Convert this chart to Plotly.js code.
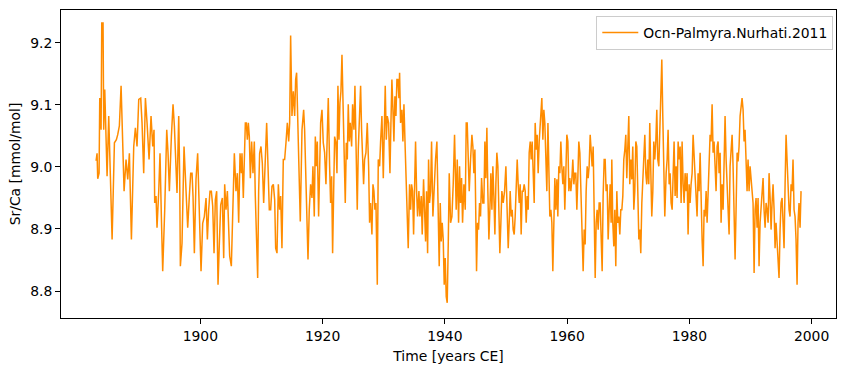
<!DOCTYPE html>
<html>
<head>
<meta charset="utf-8">
<script src="https://cdn.plot.ly/plotly-3.0.1.min.js"></script>
<style>
html,body{margin:0;padding:0;background:#fff;}
#chart{width:846px;height:371px;}
</style>
</head>
<body>
<div id="chart"></div>
<script>
const seriesName = "Ocn-Palmyra.Nurhati.2011";
const xTickVals = [1900, 1920, 1940, 1960, 1980, 2000];
const yTickVals = [8.8, 8.9, 9.0, 9.1, 9.2];

const years = [
1882.94,1883.10,1883.21,1883.43,1883.54,1883.76,1883.87,1884.08,1884.19,1884.36,
1884.74,1885.01,1885.28,1885.56,1885.94,1886.26,1886.48,1886.75,1887.03,1887.30,1887.52,1887.84,1888.12,1888.39,1888.72,1889.10,1889.37,1889.64,1889.92,1890.24,1890.46,1890.73,1891.01,1891.28,1891.61,1891.93,1892.21,1892.42,1892.53,1892.75,1892.91,1893.19,1893.40,1893.62,1893.84,1894.17,1894.50,1894.71,1894.93,1895.26,1895.53,1895.75,
1895.91,1896.18,1896.46,1896.62,1896.73,1897.00,1897.33,1897.66,1897.93,1898.20,1898.42,1898.64,1898.80,1899.02,1899.29,1899.56,1899.84,1900.11,1900.38,1900.65,1900.93,1901.15,1901.36,1901.58,1901.80,1902.02,1902.24,1902.45,1902.67,1902.89,1903.11,1903.33,1903.60,1903.82,1903.98,1904.20,1904.42,1904.63,1904.80,1905.07,1905.29,1905.56,1905.83,1906.05,1906.27,1906.49,1906.71,1906.81,1907.03,1907.25,
1907.36,1907.52,1907.69,1907.85,1908.01,1908.18,1908.39,1908.61,1908.83,1908.99,1909.16,1909.38,1909.54,1909.70,1909.92,1910.14,1910.36,1910.58,1910.85,1911.07,1911.28,1911.50,1911.72,1911.94,1912.16,1912.32,1912.54,1912.76,1912.97,1913.14,1913.35,1913.57,1913.79,1914.01,1914.23,1914.45,1914.61,1914.77,1914.99,1915.21,1915.43,1915.59,1915.75,1915.92,1916.14,1916.35,1916.63,1916.90,1917.06,1917.33,1917.61,1917.82,1918.04,1918.26,1918.42,1918.64,
1918.81,1918.97,1919.13,1919.35,1919.51,1919.68,1919.90,1920.11,1920.33,1920.55,1920.77,1920.93,1921.15,1921.31,1921.48,1921.64,1921.80,1921.97,1922.19,1922.35,1922.51,1922.68,1922.84,1923.00,1923.17,1923.33,1923.49,1923.71,1923.88,1924.04,1924.20,1924.37,1924.53,1924.75,1924.91,1925.13,1925.29,1925.46,1925.67,1925.84,1926.06,1926.22,1926.38,1926.55,1926.71,1926.87,1927.09,1927.31,1927.53,1927.69,1927.85,1928.07,1928.24,1928.40,1928.56,1928.73,1928.95,1929.11,1929.33,1929.49,1929.71,1929.93,1930.09,
1930.25,1930.42,1930.58,1930.80,1931.02,1931.18,1931.34,1931.51,1931.67,1931.83,1932.00,1932.16,1932.32,1932.49,1932.60,1932.76,1932.98,1933.14,1933.31,1933.52,1933.74,1934.01,1934.23,1934.40,1934.56,1934.72,1934.89,1935.05,1935.21,1935.38,1935.54,1935.76,1935.92,1936.14,1936.30,1936.52,1936.69,1936.85,1937.01,1937.18,1937.34,1937.50,1937.67,1937.83,1938.05,1938.27,1938.48,1938.70,1938.87,1939.08,1939.25,1939.41,1939.57,1939.74,1939.90,1940.06,1940.23,1940.39,1940.56,1940.72,1940.94,1941.16,1941.37,1941.59,
1941.86,1942.03,1942.25,1942.41,1942.57,1942.74,1942.90,1943.12,1943.34,1943.50,1943.66,1943.83,1943.99,1944.21,1944.43,1944.59,1944.75,1944.92,1945.08,1945.19,1945.35,1945.52,1945.68,1945.84,1946.01,1946.22,1946.39,1946.55,1946.71,1946.88,1947.04,1947.21,1947.37,1947.53,1947.70,1947.86,1948.02,1948.19,1948.35,1948.51,1948.68,1948.84,1949.00,1949.17,1949.33,1949.55,1949.77,1949.99,1950.15,1950.37,1950.53,1950.69,1950.86,1951.02,1951.18,1951.35,1951.51,1951.68,1951.84,1952.00,1952.17,1952.33,1952.49,1952.66,1952.82,1952.98,
1953.15,1953.31,1953.48,1953.64,1953.80,1953.97,1954.13,1954.29,1954.46,1954.62,1954.78,1954.95,1955.11,1955.27,1955.44,1955.66,1955.87,1956.04,1956.20,1956.36,1956.53,1956.69,1956.87,1957.02,1957.18,1957.35,1957.51,1957.67,1957.84,1958.00,1958.16,1958.33,1958.49,1958.65,1958.82,1958.98,1959.14,1959.31,1959.47,1959.63,1959.80,1959.96,1960.13,1960.29,1960.45,1960.62,1960.78,1960.94,1961.11,1961.27,1961.43,1961.60,1961.76,1961.92,1962.09,1962.25,1962.41,1962.63,1962.80,1962.96,1963.12,1963.29,1963.45,1963.61,1963.78,1963.94,1964.10,1964.27,1964.43,
1964.60,1964.76,1964.92,1965.09,1965.25,1965.41,1965.58,1965.74,1965.90,1966.07,1966.23,1966.39,1966.56,1966.72,1966.89,1967.05,1967.21,1967.32,1967.48,1967.65,1967.81,1967.97,1968.14,1968.30,1968.47,1968.63,1968.79,1968.96,1969.12,1969.28,1969.45,1969.61,1969.77,1969.94,1970.10,1970.26,1970.43,1970.59,1970.75,1970.92,1971.08,1971.25,1971.41,1971.57,1971.74,1971.90,1972.06,1972.23,1972.39,1972.55,1972.72,1972.88,1973.04,1973.21,1973.37,1973.53,1973.70,1973.86,1974.03,1974.19,1974.35,1974.52,1974.68,1974.84,1975.01,1975.17,1975.33,1975.50,1975.66,1975.82,1975.99,
1976.21,1976.37,1976.53,1976.70,1976.86,1977.02,1977.19,1977.35,1977.51,1977.68,1977.84,1978.00,1978.17,1978.33,1978.50,1978.66,1978.82,1978.99,1979.15,1979.31,1979.48,1979.64,1979.80,1979.97,1980.13,1980.29,1980.46,1980.62,1980.78,1980.95,1981.11,1981.27,1981.44,1981.60,1981.77,1981.93,1982.09,1982.26,1982.42,1982.58,1982.75,1982.91,1983.07,1983.24,1983.40,1983.56,1983.73,1983.89,1984.05,1984.22,1984.38,1984.55,1984.71,1984.87,1985.04,1985.20,1985.36,1985.53,1985.69,1985.85,1986.02,1986.18,1986.34,1986.51,1986.67,1986.84,1987.00,1987.16,1987.33,
1987.49,1987.65,1987.82,1987.98,1988.14,1988.31,1988.47,1988.63,1988.80,1988.96,1989.12,1989.29,1989.45,1989.61,1989.78,1989.94,1990.11,1990.27,1990.43,1990.60,1990.76,1990.92,1991.09,1991.25,1991.41,1991.58,1991.74,1991.90,1992.07,1992.23,1992.40,1992.56,1992.72,1992.89,1993.05,1993.21,1993.38,1993.54,1993.70,1993.87,1994.03,1994.19,1994.36,1994.52,1994.68,1994.85,1995.01,1995.18,1995.34,1995.50,1995.67,1995.83,1995.99,1996.16,1996.32,1996.48,1996.65,1996.81,1996.97,1997.14,1997.30,1997.46,1997.63,1997.79,1997.95,1998.12,1998.28
];

const srca = [
9.010,9.022,8.981,8.990,9.111,9.060,9.232,9.232,9.060,9.125,
8.985,9.082,8.985,8.883,9.039,9.044,9.052,9.066,9.131,9.012,8.961,9.012,8.980,9.022,8.883,9.033,9.063,9.033,9.109,9.111,9.071,8.990,9.111,9.071,9.012,9.082,9.033,9.060,8.942,8.953,8.902,8.961,9.022,8.920,8.832,8.931,9.060,9.023,8.961,9.049,9.101,9.066,
9.017,8.958,9.082,8.985,8.840,8.877,9.033,8.958,8.902,8.953,8.990,8.990,8.953,8.861,8.980,9.022,8.920,8.832,8.909,8.920,8.950,8.883,8.931,8.961,8.961,8.937,8.861,8.947,8.961,8.810,8.877,8.939,8.950,8.853,8.972,8.931,8.961,8.899,8.856,8.840,8.920,9.022,8.961,8.990,8.910,9.022,8.990,9.022,8.950,9.031,
9.071,9.071,9.044,9.071,9.049,8.982,9.041,8.990,9.041,8.953,8.904,8.821,8.961,9.022,9.033,9.006,8.942,9.001,9.071,9.001,8.931,8.931,8.969,8.972,8.947,8.869,8.861,8.972,8.931,8.953,8.869,9.012,9.012,9.039,9.071,9.041,9.071,9.212,9.082,9.122,9.082,9.141,9.152,9.082,8.996,8.912,9.060,9.092,9.060,8.931,8.851,8.931,8.972,8.950,9.001,8.920,
9.049,9.001,9.041,8.920,9.001,9.071,9.092,9.039,9.023,8.972,9.052,9.111,9.001,8.942,8.985,8.861,8.953,9.049,9.039,8.990,9.131,9.044,9.103,9.122,9.181,9.128,9.039,8.942,9.039,9.012,9.101,9.041,9.071,9.033,9.101,9.060,9.131,9.041,8.931,9.028,9.092,9.131,9.060,9.012,8.972,9.012,9.023,9.071,9.001,8.910,8.942,8.891,8.972,8.961,8.931,8.942,8.810,9.012,9.001,9.041,9.082,8.982,9.092,
9.131,9.044,9.082,9.071,8.990,9.071,9.141,9.092,9.041,9.114,9.082,9.141,9.141,9.111,9.152,9.071,9.092,9.041,9.101,9.028,8.961,8.869,8.972,8.931,8.972,8.961,8.891,8.996,9.041,8.961,8.920,8.961,8.920,8.953,8.891,8.980,8.931,8.880,8.961,8.861,9.012,8.942,8.961,9.041,8.920,8.982,9.012,9.041,8.920,8.840,8.942,8.880,8.910,8.883,8.810,8.853,8.791,8.781,8.877,8.990,8.910,8.920,8.972,9.052,
8.931,9.012,8.910,9.001,8.942,8.982,8.910,8.972,8.931,9.071,9.071,9.012,8.961,9.012,9.052,9.033,8.990,9.028,8.840,8.832,8.910,8.899,8.942,8.920,8.982,8.942,8.942,9.041,8.982,9.063,8.961,8.883,8.931,8.990,8.931,9.001,8.953,8.891,8.972,9.023,9.001,8.931,8.861,8.910,8.961,8.942,8.961,9.001,8.931,8.869,8.910,8.961,8.920,8.931,8.899,8.891,8.920,8.972,9.012,8.972,8.942,8.972,8.891,8.961,8.961,8.972,
8.961,8.910,8.953,8.931,9.023,9.041,9.012,9.041,8.974,8.942,9.071,9.028,9.052,8.990,9.041,9.071,9.111,9.044,9.092,9.071,8.990,8.961,9.071,8.972,8.920,8.931,8.910,8.832,8.942,8.982,8.931,8.980,8.920,9.001,8.990,9.041,9.001,8.972,9.001,8.931,8.990,9.052,9.041,8.961,8.982,8.961,8.980,9.012,8.972,8.990,8.990,8.931,8.982,9.041,9.023,8.972,8.920,8.832,8.899,8.875,8.961,9.001,8.982,9.001,9.052,9.012,9.001,9.033,8.931,
8.821,8.910,8.931,8.899,8.942,8.942,8.891,8.832,8.953,9.012,9.012,8.961,8.972,8.883,8.931,8.972,8.910,9.012,8.910,8.872,8.931,8.840,8.961,8.910,8.920,8.891,8.931,8.931,8.953,9.012,9.028,9.052,8.982,9.023,9.082,8.972,9.012,8.980,9.033,8.931,8.961,9.041,9.033,8.961,8.883,8.899,8.861,8.942,8.982,9.012,9.052,8.990,8.972,9.012,8.972,9.071,9.012,8.920,8.961,9.041,9.012,9.041,9.092,9.012,9.001,9.060,9.152,9.173,9.082,9.012,8.920,
8.990,9.012,9.060,8.972,8.990,8.942,8.931,9.001,9.041,8.953,9.001,8.950,9.041,9.012,9.033,8.942,9.041,8.972,8.942,8.990,8.961,8.990,8.891,8.972,8.942,8.972,8.990,9.052,9.012,8.972,8.942,8.920,8.990,8.961,9.023,8.931,8.883,8.840,8.931,8.920,8.961,8.910,8.961,9.012,9.052,9.041,9.101,9.023,9.041,9.001,8.961,9.033,9.041,8.990,9.023,8.910,8.972,8.931,9.001,9.082,9.012,8.972,8.931,8.891,9.001,9.041,9.052,9.001,8.931,
8.851,8.931,9.023,9.009,9.033,9.082,9.101,9.111,9.092,9.041,9.060,9.012,8.961,9.012,8.961,9.001,8.982,8.953,8.942,8.829,8.931,8.950,8.902,8.950,8.840,8.910,8.931,8.961,8.982,8.931,8.902,8.942,8.931,8.910,8.990,8.953,8.899,8.942,8.972,8.931,8.869,8.910,8.883,8.856,8.821,8.899,8.942,8.950,8.910,8.869,8.972,9.052,9.012,8.953,8.931,8.920,8.972,8.961,9.012,8.931,8.920,8.883,8.810,8.910,8.942,8.902,8.961
];

const font = {family: "DejaVu Sans, sans-serif", size: 13.9, color: "#000"};

const trace = {
  x: years,
  y: srca,
  type: "scatter",
  mode: "lines",
  name: seriesName,
  line: {color: "#ff8c00", width: 1.5}
};

const axisCommon = {
  showgrid: false,
  zeroline: false,
  showline: true,
  mirror: true,
  linecolor: "#000",
  linewidth: 1,
  ticks: "outside",
  ticklen: 5,
  tickwidth: 1,
  tickcolor: "#000",
  tickfont: font
};

const layout = {
  width: 846,
  height: 371,
  margin: {l: 61, r: 10, t: 10, b: 53},
  paper_bgcolor: "#fff",
  plot_bgcolor: "#fff",
  font: font,
  showlegend: true,
  legend: {
    x: 0.9965, y: 0.981, xanchor: "right", yanchor: "top",
    bgcolor: "rgba(255,255,255,0.8)",
    bordercolor: "#cccccc",
    borderwidth: 1,
    itemwidth: 36,
    font: font
  },
  xaxis: Object.assign({}, axisCommon, {
    range: [1877.2, 2004.0],
    tickvals: xTickVals,
    title: {text: "Time [years CE]", font: font, standoff: 8}
  }),
  yaxis: Object.assign({}, axisCommon, {
    range: [8.7565, 9.253],
    tickvals: yTickVals,
    tickformat: ".1f",
    title: {text: "Sr/Ca [mmol/mol]", font: font, standoff: 6}
  })
};

Plotly.newPlot("chart", [trace], layout, {displayModeBar: false, staticPlot: true});
</script>
</body>
</html>
